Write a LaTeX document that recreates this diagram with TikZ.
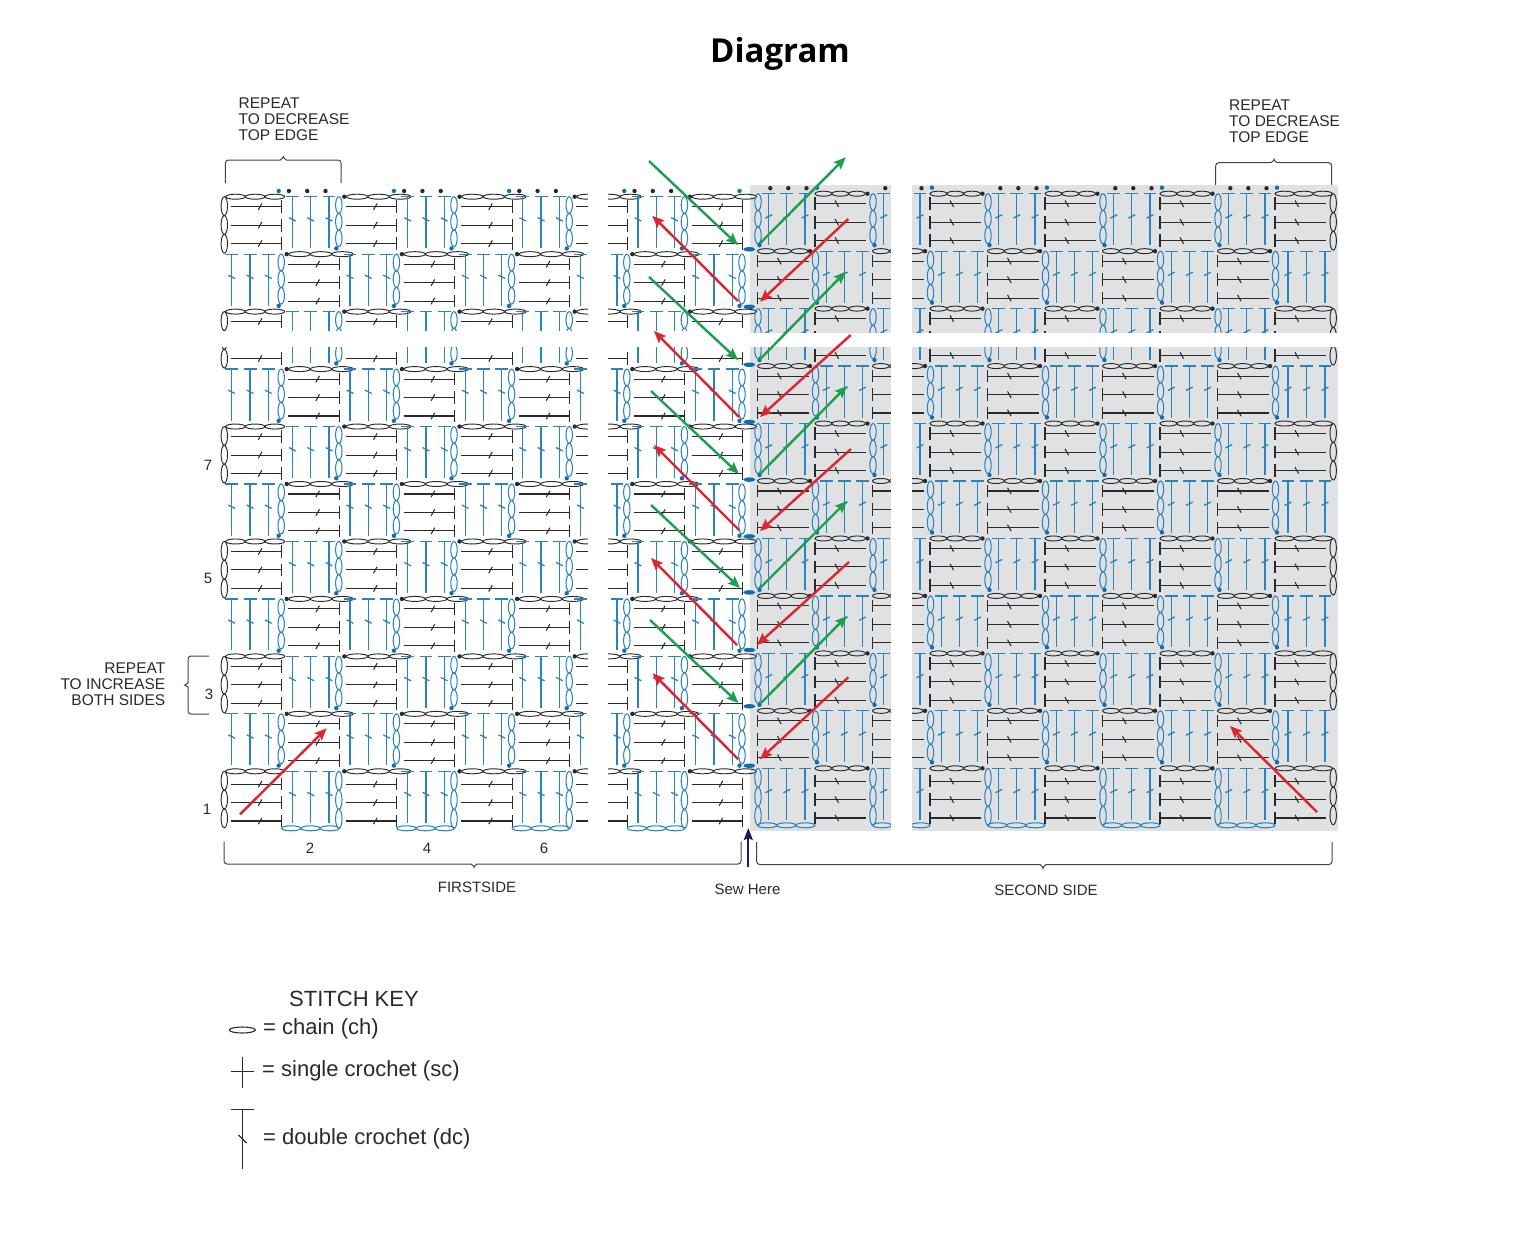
\documentclass[tikz,border=0pt]{standalone}
\usepackage{fontspec}
\setmainfont{Liberation Sans}
\newfontfamily\titlefont{Open Sans}
\usetikzlibrary{arrows.meta}
\definecolor{inkc}{HTML}{2A2A2A}
\definecolor{bluec}{HTML}{2B83BE}
\definecolor{dotb}{HTML}{0F6DB0}
\definecolor{grayc}{HTML}{DFE1E3}
\definecolor{redc}{HTML}{DD2530}
\definecolor{greenc}{HTML}{1E9E50}
\definecolor{navyc}{HTML}{1C1A5E}
\definecolor{bracec}{HTML}{444444}
\tikzset{
  blkline/.style={draw=inkc,line width=1.05pt},
  bluline/.style={draw=bluec,line width=1.3pt},
  blkch/.style={draw=inkc,line width=0.95pt},
  bluch/.style={draw=bluec,line width=1.05pt},
  blkdot/.style={fill=inkc},
  bludot/.style={fill=dotb},
  brc/.style={draw=bracec,line width=1pt,rounded corners=3pt},
  arr/.style={line width=2.4pt,-{Stealth[length=12pt,width=10pt,inset=2pt]}},
  redarr/.style={arr,draw=redc,color=redc},
  grnarr/.style={arr,draw=greenc,color=greenc},
  lab/.style={font=\fontsize{15}{16}\selectfont,text=inkc,inner sep=0pt},
  keytxt/.style={font=\fontsize{22}{24}\selectfont,text=inkc,inner sep=0pt},
  keysym/.style={draw=inkc,line width=1.1pt},
}
\newcommand\hchn[4]{%
  \pgfmathsetmacro\chw{(#2-#1)/6}%
  \draw[#4] ({#1+\chw},#3) ellipse [x radius=\chw pt,y radius=2.5pt]
            ({#1+3*\chw},#3) ellipse [x radius=\chw pt,y radius=2.5pt]
            ({#1+5*\chw},#3) ellipse [x radius=\chw pt,y radius=2.5pt];}
\newcommand\vchn[4]{%
  \pgfmathsetmacro\chh{(#3-#2)/6}%
  \draw[#4] (#1,{#2+\chh}) ellipse [x radius=3.2pt,y radius=\chh pt]
            (#1,{#2+3*\chh}) ellipse [x radius=3.2pt,y radius=\chh pt]
            (#1,{#2+5*\chh}) ellipse [x radius=3.2pt,y radius=\chh pt];}
\newcommand\LeftSc{%
  \ifnum\j=0
    \hchn{\xa+1.5}{\xb}{\y}{blkch}%
    \pgfmathsetmacro\ve{\y+56.5}%
    \vchn{224.3}{\y}{\ve}{blkch}%
  \else
    \hchn{\xa+7}{\xb}{\y}{blkch}%
    \fill[blkdot] ({\xa+5},\y) circle (2.2pt);
  \fi
  \fill[bludot] ({\xb-3},{\y-5.7}) circle (2.2pt);
  \foreach \d in {10,28.5,46.9}{
    \pgfmathsetmacro\yy{\y+\d+\sh}
    \draw[blkline] ({\xa+6.6},\yy) -- (\xb,\yy);
    \draw[blkline] (\xb,{\yy-6.3}) -- (\xb,{\yy+6.3});
    \draw[blkline] ({\xa+34.2},{\yy+3.2}) -- ({\xa+37.8},{\yy-3.2});
  }}
\newcommand\LeftDc{%
  \ifnum\j=0 \def\tlist{7.5,26,44.2}\else \def\tlist{10.7,29,47.3}\fi
  \foreach \t in \tlist{
    \pgfmathsetmacro\tx{\xa+\t}
    \draw[bluline] ({\tx-6.4},\y) -- ({\tx+6.4},\y);
    \draw[bluline] (\tx,\y) -- (\tx,{\y+51.5});
    \draw[bluline] ({\tx-3.4},{\y+21}) -- ({\tx+3.4},{\y+24.4});
    \ifnum\k=0 \fill[blkdot] ({\tx-3.5},{\y-5.7}) circle (2.2pt);\fi
  }
  \pgfmathsetmacro\cx{\xb-0.5}%
  \ifnum\k=10 \pgfmathsetmacro\ve{\y+57}\else \pgfmathsetmacro\ve{\y+50}\fi
  \vchn{\cx}{\y}{\ve}{bluch}%
  \ifnum\k=10 \hchn{\xa}{\xb}{\y+57}{bluch}\fi}
\newcommand\RightSc{%
  \ifnum\j=9
    \hchn{\xa}{\xb}{\y}{blkch}%
    \pgfmathsetmacro\ve{\y+56.5}%
    \vchn{1333.2}{\y}{\ve}{blkch}%
  \else
    \hchn{\xa}{\xb-7}{\y}{blkch}%
    \fill[blkdot] ({\xb-5},\y) circle (2.2pt);
  \fi
  \fill[bludot] ({\xa+2},{\y-6}) circle (2.2pt);
  \foreach \d in {10,28.5,46.9}{
    \pgfmathsetmacro\yy{\y+\d+\sh}
    \draw[blkline] (\xa,\yy) -- ({\xb-6.2},\yy);
    \draw[blkline] (\xa,{\yy-6.3}) -- (\xa,{\yy+6.3});
    \draw[blkline] ({\xa+20},{\yy-3.2}) -- ({\xa+23.6},{\yy+3.2});
  }}
\newcommand\RightDc{%
  \ifnum\j=9 \def\tlist{13,31.5,50}\else \def\tlist{11.3,29.3,47.5}\fi
  \foreach \t in \tlist{
    \pgfmathsetmacro\tx{\xa+\t}
    \draw[bluline] ({\tx-6.4},\y) -- ({\tx+6.4},\y);
    \draw[bluline] (\tx,\y) -- (\tx,{\y+51.5});
    \draw[bluline] ({\tx-3.4},{\y+24.4}) -- ({\tx+3.4},{\y+21});
    \ifnum\k=0 \fill[blkdot] ({\tx+1.5},{\y-5.5}) circle (2.2pt);\fi
  }
  \pgfmathsetmacro\cx{\xa+0.5}%
  \ifnum\k=10 \pgfmathsetmacro\ve{\y+57}\else \pgfmathsetmacro\ve{\y+50}\fi
  \vchn{\cx}{\y}{\ve}{bluch}%
  \ifnum\k=10 \hchn{\xa}{\xb}{\y+57}{bluch}\fi}
\newcommand\hbrace[6]{%
  \pgfmathsetmacro\ymid{(#5+#6)/2}%
  \draw[brc] (#1,#4) -- (#1,#5) -- ({#2-6},#5)
    .. controls ({#2-2},#5) and (#2,\ymid) .. (#2,#6)
    .. controls (#2,\ymid) and ({#2+2},#5) .. ({#2+6},#5)
    -- (#3,#5) -- (#3,#4);}
\begin{document}
\begin{tikzpicture}[x=1pt,y=-1pt]
\useasboundingbox (0,0) rectangle (1536,1244);
\fill[white] (0,0) rectangle (1536,1244);
% grey ground
\fill[grayc] (750,185) rectangle (1337.7,830.7);
% left panel
\foreach \k in {0,...,10}{
  \pgfmathsetmacro\y{196.7+57.46*\k}
  \ifnum\k=10 \def\sh{2.8}\else \def\sh{0}\fi
  \foreach \j in {0,...,8}{
    \pgfmathsetmacro\xa{224.1+57.6*\j}
    \pgfmathsetmacro\xb{\xa+57.6}
    \pgfmathtruncatemacro\pty{mod(\j+\k,2)}
    \ifnum\pty=0 \LeftSc\else \LeftDc\fi
  }}
% right panel
\foreach \k in {0,...,10}{
  \pgfmathsetmacro\y{193.7+57.46*\k}
  \ifnum\k=10 \def\sh{2.8}\else \def\sh{0}\fi
  \foreach \j in {0,...,9}{
    \pgfmathsetmacro\xa{757.5+57.5*\j}
    \pgfmathsetmacro\xb{\xa+57.5}
    \pgfmathtruncatemacro\pty{mod(\j+\k,2)}
    \ifnum\pty=1 \RightSc\else \RightDc\fi
  }}
% white cuts
\fill[white] (215,331) rectangle (750,346.5);
\fill[white] (750,332.7) rectangle (1345,346.7);
\fill[white] (588,180) rectangle (607.5,835);
\fill[white] (891,180) rectangle (912.3,835);
% sew line ovals
\foreach \s in {249.3,306.8,364.7,421.9,479.6,536.4,592.4,650,706.3,765.7}
  \fill[dotb] (749.3,\s) ellipse [x radius=6pt,y radius=2.2pt];
% arrows
\draw[grnarr] (649,161) -- (738,245);
\draw[grnarr] (649,277) -- (738,360);
\draw[grnarr] (651,391) -- (739,474);
\draw[grnarr] (651,505) -- (740,588);
\draw[grnarr] (650,620) -- (738.5,703);
\draw[redarr] (738,301) -- (652.3,215.7);
\draw[redarr] (739,417) -- (654,331);
\draw[redarr] (739,530) -- (654,445);
\draw[redarr] (737,645) -- (651,558);
\draw[redarr] (738.3,759.3) -- (652.7,673.3);
\draw[grnarr] (760,243.3) -- (845.7,157.3);
\draw[grnarr] (760,359.3) -- (845.7,271.7);
\draw[grnarr] (760,474) -- (847,386);
\draw[grnarr] (760,588) -- (847,501);
\draw[grnarr] (761,703) -- (847,616);
\draw[redarr] (848.3,219) -- (760,301.7);
\draw[redarr] (850.7,335) -- (760,417);
\draw[redarr] (851,449) -- (760,531);
\draw[redarr] (849,562) -- (757,645);
\draw[redarr] (848.3,677.3) -- (760,759.3);
\draw[redarr] (240,814.3) -- (326.7,728.3);
\draw[redarr] (1317,812) -- (1230,726);
\draw[navyc,line width=2.2pt,-{Stealth[length=12pt,width=9pt,inset=2pt]}] (748.3,867) -- (748.3,828);
% braces
\hbrace{225.3}{283.3}{341}{183}{160}{154}
\hbrace{1215.7}{1274}{1331.7}{185}{162.7}{156.7}
\hbrace{224}{474}{741}{841.7}{864}{870}
\hbrace{756.7}{1043}{1332}{842}{864.5}{871}
\draw[brc] (209,656) -- (188,656) -- (188,680)
   .. controls (188,683) and (185,685) .. (182,685)
   .. controls (185,685) and (188,687) .. (188,690)
   -- (188,714) -- (209,714);
% title and labels
\node[inner sep=0pt,text=black,font=\titlefont\bfseries\fontsize{33}{36}\selectfont] (title) at (780,54) {Diagram};
\node[lab,align=left,anchor=north west,font=\fontsize{15.5}{16}\selectfont] (repa) at (238.5,98) {REPEAT\\TO DECREASE\\TOP EDGE};
\node[lab,align=left,anchor=north west,font=\fontsize{15.5}{16}\selectfont] (repb) at (1229,100) {REPEAT\\TO DECREASE\\TOP EDGE};
\node[lab,align=right,anchor=north east,font=\fontsize{15.5}{16}\selectfont] (repc) at (165.5,663) {REPEAT\\TO INCREASE\\BOTH SIDES};
\node[lab] (n1) at (207,809) {1};
\node[lab] (n3) at (209,694) {3};
\node[lab] (n5) at (208,578) {5};
\node[lab] (n7) at (208,465) {7};
\node[lab] (n2) at (310,848) {2};
\node[lab] (n4) at (427,848) {4};
\node[lab] (n6) at (544,848) {6};
\node[lab] (first) at (477,887) {FIRSTSIDE};
\node[lab] (sew) at (747.5,889) {Sew Here};
\node[lab] (second) at (1046,890) {SECOND SIDE};
% key
\node[keytxt,anchor=west] (keyt) at (289,998.5) {STITCH KEY};
\node[keytxt,anchor=west] (k1) at (263,1029) {= chain (ch)};
\node[keytxt,anchor=west] (k2) at (262,1071) {= single crochet (sc)};
\node[keytxt,anchor=west] (k3) at (263,1139) {= double crochet (dc)};
\draw[keysym] (242.3,1030) ellipse [x radius=13pt,y radius=3pt];
\draw[keysym] (230.7,1071.7) -- (254.3,1071.7);
\draw[keysym] (242.3,1056.7) -- (242.3,1088.3);
\draw[keysym] (231,1109.3) -- (254,1109.3);
\draw[keysym] (242.3,1109.3) -- (242.3,1169.3);
\draw[keysym] (238.5,1135) -- (246.5,1143);
\end{tikzpicture}
\end{document}
